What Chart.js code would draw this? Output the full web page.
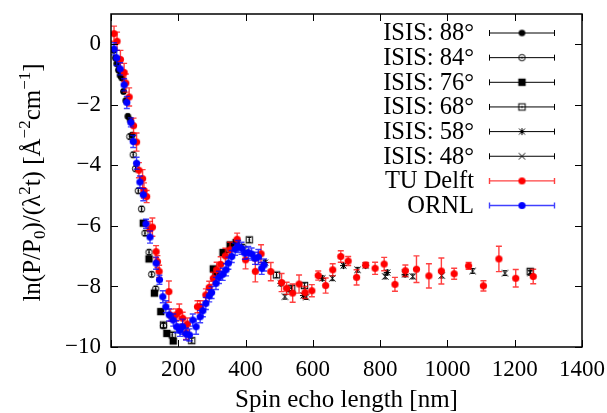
<!DOCTYPE html>
<html><head><meta charset="utf-8">
<script src="https://cdn.jsdelivr.net/npm/chart.js@4/dist/chart.umd.min.js"></script>
<style>html,body{margin:0;padding:0;background:#fff}#wrap{width:607px;height:413px}</style>
</head><body><div id="wrap"><canvas id="c" width="607" height="413"></canvas></div>
<script>
const xTickValues=[0,200,400,600,800,1000,1200,1400];
const yTickValues=[-10,-8,-6,-4,-2,0];

const isis88X=[8,13,17,22,27,32,37,44,50,57,63];
const isis88Y=[-0.2,-0.45,-0.64,-0.85,-1.03,-1.11,-1.56,-1.86,-2.38,-2.5,-3.0];
const isis84X=[56,66,73,81,91,101,113,121,133,156,344,392];
const isis84Y=[-3.05,-3.65,-4.11,-4.84,-5.44,-6.24,-6.87,-7.6,-8.08,-9.3,-6.96,-6.7];
const isis76X=[96,113,129,148,166,185,304,312,333,354,372];
const isis76Y=[-5.91,-7.09,-8.22,-8.83,-9.55,-9.8,-7.42,-7.6,-6.88,-6.63,-6.55];
const isis68X=[156,182,240,411,492,537,575,1246];
const isis68Y=[-9.27,-9.6,-9.79,-6.46,-7.62,-8.06,-7.97,-7.5];
const isis58X=[458,505,572,628,691,757,821,874];
const isis58Y=[-7.21,-7.9,-8.3,-7.73,-7.31,-7.31,-7.54,-7.6];
const isis48X=[517,530,580,658,733,815,874,897,983,1075,1171,1246];
const isis48Y=[-8.34,-8.1,-8.35,-7.73,-7.45,-7.67,-7.55,-7.67,-7.64,-7.49,-7.56,-7.55];

const delftX=[9,18,28,39,44,54,67,76,83,94,98,106,116,123,134,138,143,172,177,193,203,213,223,227,257,265,282,292,304,314,326,340,354,375,400,429,446,475,507,522,540,559,577,597,616,638,659,683,705,730,757,785,812,844,875,908,945,982,1020,1063,1107,1153,1203,1255];
const delftY=[0.35,0.1,-0.5,-0.93,-1.28,-1.74,-2.69,-3.23,-4.16,-4.44,-4.83,-5.03,-6.1,-6.04,-6.85,-7.18,-7.5,-8.17,-8.95,-8.94,-8.83,-9.05,-9.55,-9.24,-8.67,-8.67,-8.28,-8.03,-7.73,-7.45,-7.27,-6.99,-6.79,-6.44,-7.12,-7.5,-6.92,-7.51,-7.87,-8.06,-8.22,-7.92,-8.2,-8.14,-7.64,-7.97,-7.45,-7.01,-7.16,-7.7,-7.29,-7.4,-7.26,-7.93,-7.48,-7.43,-7.65,-7.49,-7.58,-7.32,-7.98,-7.09,-7.73,-7.67];
const delftErr=[0.25,0.3,0.3,0.3,0.3,0.3,0.25,0.3,0.25,0.3,0.25,0.2,0.25,0.3,0.2,0.2,0.2,0.35,0.2,0.2,0.25,0.2,0.2,0.2,0.2,0.2,0.2,0.2,0.2,0.25,0.25,0.25,0.25,0.2,0.3,0.35,0.3,0.3,0.3,0.2,0.3,0.3,0.2,0.2,0.15,0.25,0.2,0.19,0.15,0.25,0.08,0.2,0.22,0.23,0.19,0.44,0.4,0.43,0.18,0.11,0.17,0.42,0.29,0.24];

const ornlX=[9,17,27,39,47,59,66,76,86,96,104,116,134,144,154,163,173,185,195,205,213,223,233,243,253,265,273,282,292,299,312,321,332,342,349,359,369,378,388,398,408,418,428,438,448,455];
const ornlY=[-0.15,-0.45,-0.81,-1.34,-1.92,-2.58,-3.21,-3.93,-4.55,-4.97,-5.93,-6.37,-7.23,-7.78,-8.34,-8.67,-8.94,-9.11,-9.33,-9.45,-9.33,-9.57,-9.6,-9.11,-9.33,-9.0,-8.8,-8.56,-8.31,-8.2,-7.9,-7.7,-7.6,-7.45,-7.23,-7.01,-6.77,-6.68,-6.74,-6.9,-6.88,-6.93,-7.07,-7.03,-7.4,-7.29];
const ornlErr=[0.2,0.25,0.2,0.2,0.2,0.15,0.2,0.2,0.2,0.2,0.15,0.2,0.2,0.15,0.2,0.2,0.2,0.2,0.2,0.2,0.25,0.2,0.2,0.2,0.25,0.2,0.2,0.2,0.2,0.2,0.2,0.2,0.2,0.2,0.2,0.2,0.2,0.2,0.2,0.2,0.2,0.2,0.2,0.25,0.2,0.2];
const isisErr=0.08;

const FONT='"Liberation Serif","Times New Roman",serif';

function mk(kind){
  const s=13,c=document.createElement('canvas');c.width=s;c.height=s;
  const g=c.getContext('2d');g.strokeStyle='#000';g.fillStyle='#000';g.lineWidth=1;
  const m=s/2;
  if(kind==='fcircle'){g.beginPath();g.arc(m,m,3.3,0,Math.PI*2);g.fill();}
  else if(kind==='ocircle'){g.beginPath();g.arc(m,m,3.2,0,Math.PI*2);g.stroke();g.beginPath();g.arc(m,m,0.9,0,Math.PI*2);g.fill();}
  else if(kind==='fsquare'){g.fillRect(m-3.7,m-3.7,7.4,7.4);}
  else if(kind==='osquare'){g.strokeRect(m-3.2,m-3.2,6.4,6.4);g.fillRect(m-0.8,m-0.8,1.6,1.6);}
  else if(kind==='star'){g.beginPath();g.moveTo(m-3.5,m);g.lineTo(m+3.5,m);g.moveTo(m,m-3.5);g.lineTo(m,m+3.5);g.moveTo(m-3,m-3);g.lineTo(m+3,m+3);g.moveTo(m-3,m+3);g.lineTo(m+3,m-3);g.stroke();}
  else if(kind==='cross'){g.beginPath();g.moveTo(m-3.2,m-3.2);g.lineTo(m+3.2,m+3.2);g.moveTo(m-3.2,m+3.2);g.lineTo(m+3.2,m-3.2);g.stroke();}
  else if(kind==='red'||kind==='blue'){g.fillStyle=kind==='red'?'#ff0000':'#0000ff';g.beginPath();g.arc(m,m,3.6,0,Math.PI*2);g.fill();}
  return c;
}
function pts(xs,ys){return xs.map((x,i)=>({x:x,y:ys[i]}));}

const series=[
 {label:'ISIS: 88°',xs:isis88X,ys:isis88Y,err:null,kind:'fcircle',color:'#000000',bar:'#000000',order:3},
 {label:'ISIS: 84°',xs:isis84X,ys:isis84Y,err:null,kind:'ocircle',color:'#000000',bar:'#000000',order:3},
 {label:'ISIS: 76°',xs:isis76X,ys:isis76Y,err:null,kind:'fsquare',color:'#000000',bar:'#000000',order:3},
 {label:'ISIS: 68°',xs:isis68X,ys:isis68Y,err:null,kind:'osquare',color:'#000000',bar:'#000000',order:3},
 {label:'ISIS: 58°',xs:isis58X,ys:isis58Y,err:null,kind:'star',color:'#000000',bar:'#000000',order:3},
 {label:'ISIS: 48°',xs:isis48X,ys:isis48Y,err:null,kind:'cross',color:'#000000',bar:'#000000',order:3},
 {label:'TU Delft',xs:delftX,ys:delftY,err:delftErr,kind:'red',color:'#ff0000',bar:'rgba(255,0,0,0.75)',order:2},
 {label:'ORNL',xs:ornlX,ys:ornlY,err:ornlErr,kind:'blue',color:'#0000ff',bar:'rgba(0,0,255,0.75)',order:1}
];

const datasets=series.map(s=>({
  label:s.label,data:pts(s.xs,s.ys),pointStyle:mk(s.kind),pointRadius:4,
  showLine:false,order:s.order,errs:s.err,barColor:s.bar,kind:s.kind,backgroundColor:s.color,borderColor:s.color
}));

const errorBars={
  id:'errorBars',
  beforeDatasetDraw(chart,args){
    const ds=chart.data.datasets[args.index];const ctx=chart.ctx;
    const xs=chart.scales.x,ys=chart.scales.y;
    ctx.save();ctx.strokeStyle=ds.barColor;ctx.lineWidth=ds.errs?1.4:1;
    ds.data.forEach((p,i)=>{
      const e=ds.errs?ds.errs[i]:isisErr;
      const px=xs.getPixelForValue(p.x),y1=ys.getPixelForValue(p.y+e),y2=ys.getPixelForValue(p.y-e);
      const cw=ds.errs?3:2;
      ctx.beginPath();ctx.moveTo(px,y1);ctx.lineTo(px,y2);
      ctx.moveTo(px-cw,y1);ctx.lineTo(px+cw,y1);ctx.moveTo(px-cw,y2);ctx.lineTo(px+cw,y2);ctx.stroke();
    });
    ctx.restore();
  }
};

const frame={
  id:'frame',
  afterDraw(chart){
    const ctx=chart.ctx,a=chart.chartArea,xs=chart.scales.x,ys=chart.scales.y;
    ctx.save();ctx.strokeStyle='#000';ctx.lineWidth=1.5;
    ctx.strokeRect(a.left,a.top,a.right-a.left,a.bottom-a.top);
    ctx.lineWidth=1;ctx.beginPath();
    xTickValues.forEach(v=>{const p=Math.round(xs.getPixelForValue(v))+0.5;ctx.moveTo(p,a.bottom);ctx.lineTo(p,a.bottom-7);ctx.moveTo(p,a.top);ctx.lineTo(p,a.top+7);});
    yTickValues.forEach(v=>{const p=Math.round(ys.getPixelForValue(v))+0.5;ctx.moveTo(a.left,p);ctx.lineTo(a.left+7,p);ctx.moveTo(a.right,p);ctx.lineTo(a.right-7,p);});
    ctx.stroke();
    ctx.fillStyle='#000';ctx.font='25px '+FONT;ctx.textAlign='center';ctx.textBaseline='middle';
    ctx.fillText('Spin echo length [nm]',(a.left+a.right)/2,400);
    const segs=[['ln(P/P',0],['0',1],[')/(λ',0],['2',-1],['t) [Å',0],['−2',-1],['cm',0],['−1',-1],[']',0]];
    const big='25px '+FONT,small='17px '+FONT;
    let total=0;segs.forEach(s=>{ctx.font=s[1]?small:big;total+=ctx.measureText(s[0]).width;});
    ctx.translate(40,(a.top+a.bottom)/2+2);ctx.rotate(-Math.PI/2);
    ctx.textAlign='left';ctx.textBaseline='alphabetic';
    let x=-total/2;
    segs.forEach(s=>{ctx.font=s[1]?small:big;const dy=s[1]===1?5:(s[1]===-1?-10:0);ctx.fillText(s[0],x,dy);x+=ctx.measureText(s[0]).width;});
    ctx.restore();
    ctx.save();ctx.font='24.5px '+FONT;ctx.fillStyle='#000';ctx.textAlign='right';ctx.textBaseline='middle';
    chart.data.datasets.forEach((ds,i)=>{
      const y=33+i*24.65;
      ctx.fillText(ds.label,474,y+1);
      ctx.strokeStyle=ds.barColor;ctx.lineWidth=ds.errs?1.4:1;
      ctx.beginPath();ctx.moveTo(489,y);ctx.lineTo(554,y);ctx.moveTo(489.5,y-3);ctx.lineTo(489.5,y+3);ctx.moveTo(554.5,y-3);ctx.lineTo(554.5,y+3);ctx.stroke();
      const img=ds.pointStyle;ctx.drawImage(img,522-img.width/2,y-img.height/2);
    });
    ctx.restore();
  }
};

new Chart(document.getElementById('c'),{
  type:'scatter',
  data:{datasets:datasets},
  options:{
    responsive:false,animation:false,events:[],
    layout:{padding:{top:14,right:25,left:0,bottom:0}},
    plugins:{legend:{display:false},tooltip:{enabled:false}},
    scales:{
      x:{type:'linear',min:0,max:1400,
        afterFit(s){s.height=66;s.paddingLeft=0;s.paddingRight=0;},
        grid:{display:false,drawTicks:false},border:{display:false},
        ticks:{stepSize:200,padding:9,color:'#000',font:{family:FONT,size:23},maxRotation:0,autoSkip:false,
          callback:v=>String(v)}},
      y:{type:'linear',min:-10,max:1,
        afterFit(s){s.width=111;s.paddingTop=0;s.paddingBottom=0;},
        grid:{display:false,drawTicks:false},border:{display:false},
        ticks:{stepSize:2,includeBounds:false,padding:10,color:'#000',font:{family:FONT,size:23},
          callback:v=>String(v).replace('-','−')}}
    }
  },
  plugins:[errorBars,frame]
});
</script></body></html>
